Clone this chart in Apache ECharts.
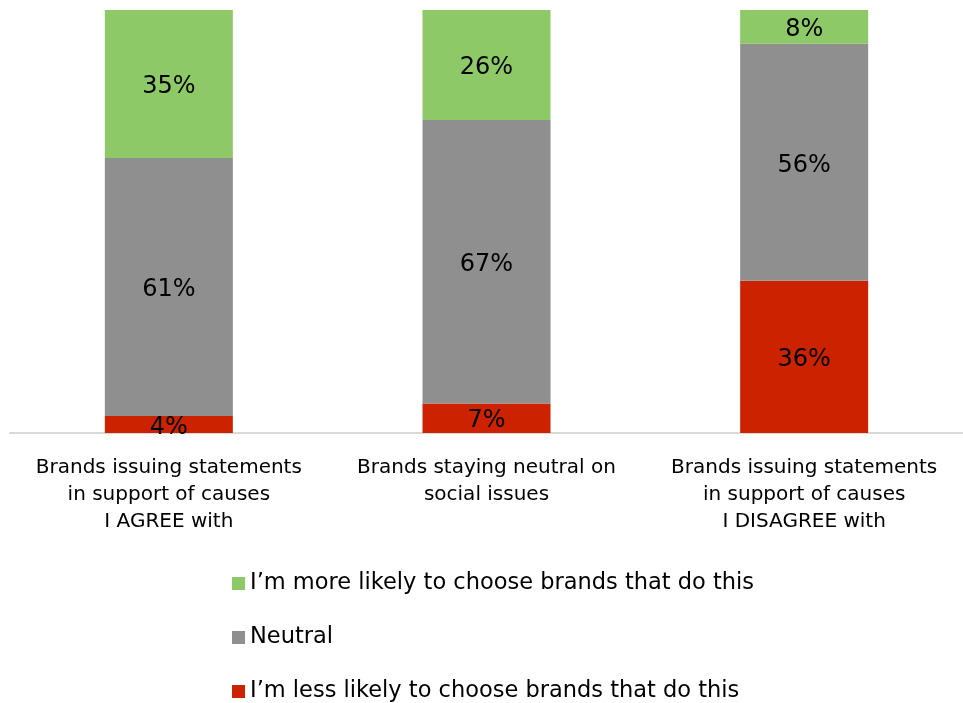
<!DOCTYPE html>
<html><head><meta charset="utf-8">
<script src="https://cdn.jsdelivr.net/npm/echarts@6/dist/echarts.min.js"></script>
<style>html,body{margin:0;padding:0;background:#fff}#c{width:963px;height:703px}</style>
</head><body><div id="c"></div>
<script>
const categories = [
  "Brands issuing statements\nin support of causes\nI AGREE with",
  "Brands staying neutral on\nsocial issues",
  "Brands issuing statements\nin support of causes\nI DISAGREE with"
];
const lessLikely = [4, 7, 36];
const neutral = [61, 67, 56];
const moreLikely = [35, 26, 8];
const seriesNames = ["I\u2019m less likely to choose brands that do this", "Neutral", "I\u2019m more likely to choose brands that do this"];
const FONT = "DejaVu Sans";
const chart = echarts.init(document.getElementById('c'), null, {renderer: 'canvas'});
const lbl = {show: true, position: 'inside', color: '#000', fontSize: 24, fontFamily: FONT, offset: [0, 3], formatter: p => p.value + '%'};
chart.setOption({
  animation: false,
  grid: {left: 10, width: 963, top: 10, bottom: 270, containLabel: false},
  xAxis: {type: 'category', data: categories,
    axisLine: {lineStyle: {color: '#D9D9D9', width: 2}}, axisTick: {show: false},
    axisLabel: {color: '#000', fontSize: 20, fontFamily: FONT, lineHeight: 27, margin: 21, interval: 0}},
  yAxis: {type: 'value', min: 0, max: 100, show: false, splitLine: {show: false}},
  legend: {orient: 'vertical', left: 227, top: 567, height: 140, itemWidth: 13, itemHeight: 13, itemGap: 31,
    icon: 'rect', textStyle: {color: '#000', fontSize: 22.5, fontFamily: FONT},
    data: [seriesNames[2], seriesNames[1], seriesNames[0]]},
  series: [
    {name: seriesNames[0], type: 'bar', stack: 's', data: lessLikely, barWidth: 128, itemStyle: {color: '#CC2200'}, label: lbl},
    {name: seriesNames[1], type: 'bar', stack: 's', data: neutral, itemStyle: {color: '#8F8F8F'}, label: lbl},
    {name: seriesNames[2], type: 'bar', stack: 's', data: moreLikely, itemStyle: {color: '#8DC966'}, label: lbl}
  ]
});
</script></body></html>
